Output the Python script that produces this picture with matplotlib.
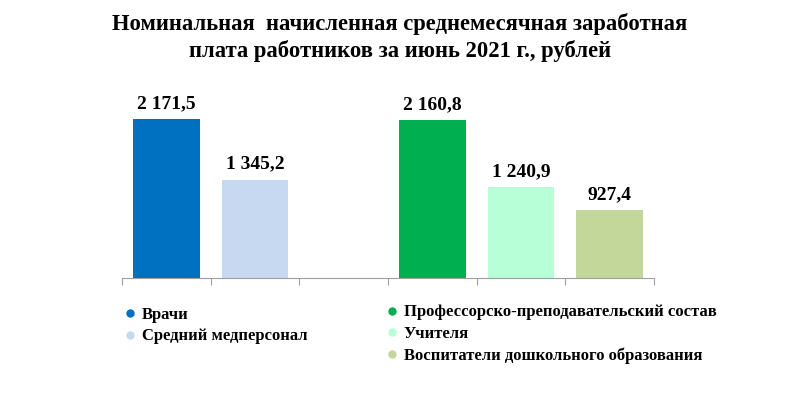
import matplotlib
matplotlib.use("Agg")
import matplotlib.pyplot as plt
from matplotlib.lines import Line2D

categories = ["Врачи", "Средний медперсонал", "", "Профессорско-преподавательский состав",
              "Учителя", "Воспитатели дошкольного образования"]
values = [2171.5, 1345.2, None, 2160.8, 1240.9, 927.4]
labels = ["2 171,5", "1 345,2", "", "2 160,8", "1 240,9", "927,4"]
colors = ["#0070C0", "#C6D9F1", "none", "#00B050", "#B7FFD7", "#C4D79B"]
title = "Номинальная  начисленная среднемесячная заработная\nплата работников за июнь 2021 г., рублей"

plt.rcParams['font.family'] = ['Liberation Serif', 'DejaVu Serif']

fig = plt.figure(figsize=(8, 3.96), dpi=100)
ax = fig.add_axes([0.1525, 0.298, 0.665, 0.462])

xs = list(range(len(categories)))
for x, v, c, lab in zip(xs, values, colors, labels):
    if v is None:
        continue
    ax.bar(x, v, width=0.75, color=c)
    ax.annotate(lab, (x, v), xytext=(0, 5), textcoords="offset points",
                ha="center", va="bottom", fontsize=14, fontweight="bold")

ax.set_xlim(-0.5, len(categories) - 0.5)
ax.set_ylim(0, 2500)
for s in ["top", "right", "left"]:
    ax.spines[s].set_visible(False)
ax.spines["bottom"].set_color("#A0A0A0")
ax.set_yticks([])
ax.set_xticks([i - 0.5 for i in range(len(categories) + 1)])
ax.set_xticklabels([])
ax.tick_params(axis="x", length=5, color="#A0A0A0", direction="out")

fig.text(0.5, 0.968, title, ha="center", va="top", fontsize=16.3, fontweight="bold",
         linespacing=1.3)

def handles(idx):
    return [Line2D([], [], marker="o", linestyle="none", markersize=5,
                   markerfacecolor=colors[i], markeredgecolor=colors[i]) for i in idx]

left_idx = [0, 1]
right_idx = [3, 4, 5]
common = dict(loc="upper left", frameon=False, handlelength=0.6, handletextpad=0.4,
              labelspacing=0.32, borderpad=0.3,
              prop={"family": "Liberation Serif", "weight": "bold", "size": 12})
fig.legend(handles(left_idx), [categories[i] for i in left_idx],
           bbox_to_anchor=(0.14, 0.258), **common)
fig.legend(handles(right_idx), [categories[i] for i in right_idx],
           bbox_to_anchor=(0.467, 0.265), **common)

fig.savefig("out.png", dpi=100)
